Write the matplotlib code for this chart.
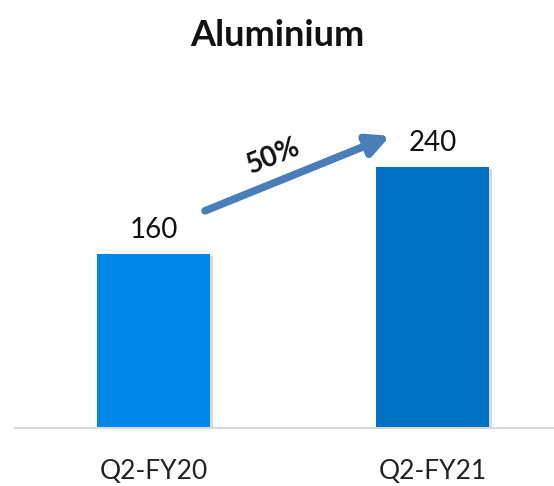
import matplotlib.pyplot as plt
import matplotlib.patheffects as pe

plt.rcParams['font.family'] = ['Lato', 'DejaVu Sans']

quarters = ['Q2-FY20', 'Q2-FY21']
volumes = [160, 240]
bar_colors = ['#0088e8', '#0070c0']
growth_label = '50%'

fig = plt.figure(figsize=(5.54, 4.86), dpi=100)
ax = fig.add_axes([0.027, 0.119, 0.973, 0.758])

x = range(len(quarters))
bars = ax.bar(x, volumes, width=0.405, color=bar_colors, zorder=2)
for b in bars:
    b.set_path_effects([pe.SimplePatchShadow(offset=(2, -1), shadow_rgbFace='#000000',
                                             alpha=0.15),
                        pe.Normal()])

for b, v in zip(bars, volumes):
    ax.annotate(str(v), (b.get_x() + b.get_width() / 2, v),
                xytext=(0, 8), textcoords='offset points',
                ha='center', va='bottom', fontsize=20, color='#111111')

ax.set_xlim(-0.496, 1.435)
ax.set_ylim(0, 339)

# growth arrow between the two bars
ax.annotate('', xy=(0.848, 269), xytext=(0.185, 200),
            arrowprops=dict(arrowstyle='-|>,head_length=1.3,head_width=0.65',
                            color='#4a7ebb', lw=5.5, shrinkA=0, shrinkB=0))
ax.text(0.43, 250, growth_label, rotation=22, ha='center', va='center',
        fontsize=20, fontweight='bold', color='#111111')

ax.set_xticks(list(x))
ax.set_xticklabels(quarters, fontsize=19, color='#222222')
ax.tick_params(axis='x', length=0, pad=22)
ax.set_yticks([])
for side in ['top', 'right', 'left']:
    ax.spines[side].set_visible(False)
ax.spines['bottom'].set_color('#d9d9d9')
ax.spines['bottom'].set_linewidth(1.5)

fig.text(0.5, 1 - 35 / 486, 'Aluminium', ha='center', va='center',
         fontsize=26, fontweight='bold', color='#111111')

fig.savefig('out.png', dpi=100)
